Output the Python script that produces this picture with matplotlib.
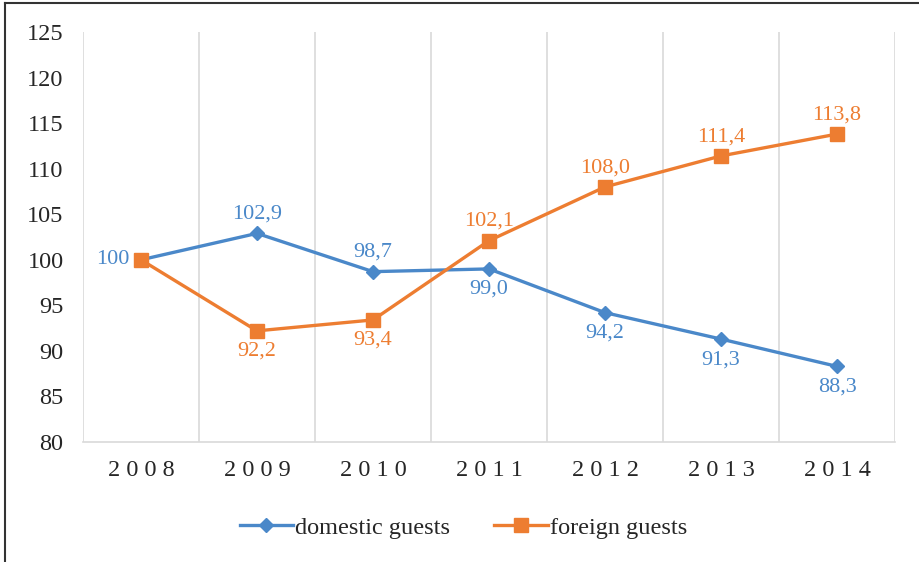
import matplotlib
matplotlib.use('Agg')
import matplotlib.pyplot as plt
from matplotlib.lines import Line2D

years = ['2008', '2009', '2010', '2011', '2012', '2013', '2014']
domestic = [100, 102.9, 98.7, 99.0, 94.2, 91.3, 88.3]
foreign = [100, 92.2, 93.4, 102.1, 108.0, 111.4, 113.8]
domestic_labels = ['100', '102,9', '98,7', '99,0', '94,2', '91,3', '88,3']
foreign_labels = ['', '92,2', '93,4', '102,1', '108,0', '111,4', '113,8']
# where the label sits: 'l' left, 'a' above, 'b' below
domestic_pos = ['l', 'a', 'a', 'b', 'b', 'b', 'b']
foreign_pos = ['', 'b', 'b', 'a', 'a', 'a', 'a']

blue = '#4A88C9'
orange = '#ED7D31'
grid_c = '#D9D9D9'
text_c = '#262626'

plt.rcParams['font.family'] = ['Liberation Serif', 'DejaVu Serif']

fig = plt.figure(figsize=(9.19, 5.62), dpi=100)
ax = fig.add_axes([0.0903, 0.2135, 0.8836, 0.7295])

x = list(range(len(years)))
ax.plot(x, domestic, color=blue, lw=2.4, marker='D', ms=7, label='domestic guests', zorder=3)
ax.plot(x, foreign, color=orange, lw=2.4, marker='s', ms=10, label='foreign guests', zorder=3)

def put_labels(vals, labels, pos, color):
    for i, (v, t, p) in enumerate(zip(vals, labels, pos)):
        if not t:
            continue
        if p == 'l':
            ax.annotate(t, (i, v), xytext=(-8, 0), textcoords='offset points',
                        ha='right', va='center', color=color, fontsize=16)
        elif p == 'a':
            ax.annotate(t, (i, v), xytext=(0, 7), textcoords='offset points',
                        ha='center', va='bottom', color=color, fontsize=16)
        else:
            ax.annotate(t, (i, v), xytext=(0, -8), textcoords='offset points',
                        ha='center', va='top', color=color, fontsize=16)

put_labels(domestic, domestic_labels, domestic_pos, blue)
put_labels(foreign, foreign_labels, foreign_pos, orange)

ax.set_xlim(-0.5, len(years) - 0.5)
ax.set_ylim(80, 125)
ax.set_yticks(range(80, 126, 5))
ax.set_xticks(x)
ax.set_xticklabels([' '.join(y) for y in years])
ax.set_xticks([i - 0.5 for i in range(len(years) + 1)], minor=True)
ax.grid(True, which='minor', axis='x', color=grid_c, lw=1.2)
ax.tick_params(axis='both', which='both', length=0, labelsize=17.5, colors=text_c)
ax.tick_params(axis='y', pad=14)
ax.tick_params(axis='x', pad=13)

for s in ['top', 'right', 'left']:
    ax.spines[s].set_visible(False)
ax.spines['bottom'].set_color(grid_c)
ax.spines['bottom'].set_linewidth(1.2)

ax.legend(loc='center', bbox_to_anchor=(0.5043, 0.0613), bbox_transform=fig.transFigure,
          ncol=2, frameon=False, fontsize=17.5, handlelength=2.2, columnspacing=1.8,
          handletextpad=0.1, labelcolor=text_c)

# outer frame (left and top only visible in the crop)
fig.add_artist(Line2D([0.0055, 0.0055], [0, 0.995], transform=fig.transFigure, color='#333333', lw=1.5))
fig.add_artist(Line2D([0.0055, 1], [0.995, 0.995], transform=fig.transFigure, color='#333333', lw=1.5))

fig.savefig('out.png', dpi=100)
